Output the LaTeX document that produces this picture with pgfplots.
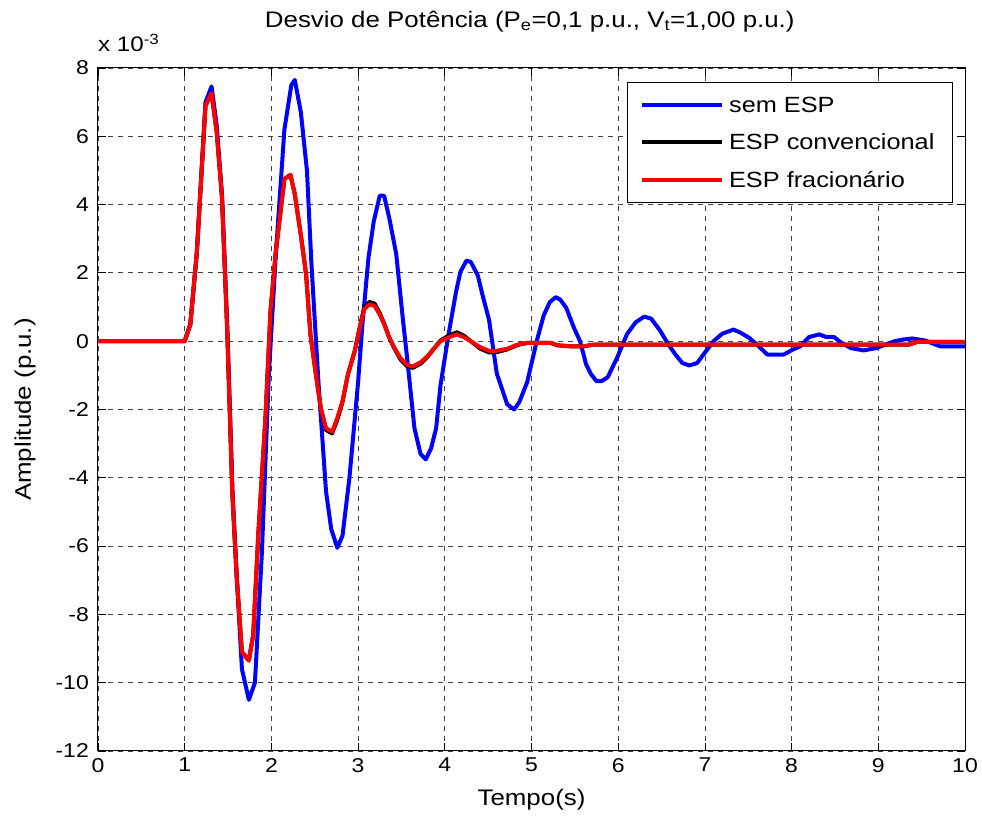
\documentclass[border=0pt]{standalone}
\usepackage{pgfplots}
\pgfplotsset{compat=1.18}
\usepackage{fontspec}
\setmainfont{Liberation Sans}[FakeStretch=1.15]
\usetikzlibrary{calc}
\definecolor{mblue}{RGB}{0,0,255}
\definecolor{mred}{RGB}{255,0,0}
\begin{document}
\begin{tikzpicture}
\begin{axis}[name=ax, scale only axis, width=867pt, height=683pt,
  xmin=0, xmax=10, ymin=-12, ymax=8,
  xtick={0,1,...,10}, ytick={-12,-10,...,8},
  grid=major,
  major grid style={dash pattern=on 5pt off 5pt, black!75, line width=0.8pt},
  tick align=inside, major tick length=8pt,
  axis line style={line width=1pt},
  tick style={black, line width=0.8pt},
  every tick label/.append style={font=\fontsize{20}{24}\selectfont},
  /pgf/number format/assume math mode=true,
  xticklabel style={anchor=north, inner sep=0pt, yshift=-7pt},
  yticklabel style={anchor=east, inner sep=0pt, xshift=-9pt},
  title={Desvio de Potência (P\textsubscript{e}=0,1 p.u., V\textsubscript{t}=1,00 p.u.)},
  title style={at={(axis description cs:0.498,1.059)}, anchor=center, font=\fontsize{22.5}{26}\selectfont},
  xlabel={Tempo(s)},
  xlabel style={at={(axis description cs:0.5,-0.072)}, anchor=center, font=\fontsize{22.5}{26}\selectfont},
  ylabel={Amplitude (p.u.)},
  ylabel style={at={(axis description cs:-0.084,0.5)}, anchor=center, font=\fontsize{22.5}{26}\selectfont},
  legend style={at={(axis description cs:0.986,0.979)}, anchor=north east, draw=black, line width=0.8pt,
    font=\fontsize{22}{26}\selectfont, row sep=16pt, inner xsep=13pt, inner ysep=12pt,
    nodes={inner xsep=5pt}},
  legend cell align=left,
  legend image code/.code={\draw[#1, line width=4pt] (0pt,0pt) -- (80pt,0pt);},
  clip=false,
]
\addplot[mblue, line width=4pt, line join=round] coordinates {
(0,0) (1.0,0) (1.065,0.5) (1.14,2.6) (1.24,7.0) (1.31,7.46) (1.37,6.3) (1.43,4.3) (1.49,0.5) (1.55,-4.3) (1.6,-6.9) (1.66,-9.6) (1.74,-10.5) (1.81,-10.0) (1.89,-6.2) (1.97,-1.0) (2.05,2.5) (2.15,6.2) (2.23,7.5) (2.27,7.65) (2.34,6.7) (2.41,5.0) (2.46,2.35) (2.54,-1.1) (2.63,-4.4) (2.69,-5.5) (2.76,-6.05) (2.82,-5.7) (2.9,-4.0) (3.0,-1.2) (3.05,0.5) (3.12,2.45) (3.18,3.5) (3.25,4.26) (3.3,4.26) (3.36,3.6) (3.44,2.55) (3.51,0.8) (3.57,-0.6) (3.65,-2.55) (3.72,-3.3) (3.78,-3.46) (3.84,-3.15) (3.9,-2.55) (3.95,-1.3) (4.04,0.15) (4.13,1.45) (4.18,2.03) (4.25,2.36) (4.3,2.32) (4.38,1.93) (4.44,1.3) (4.51,0.63) (4.6,-0.95) (4.72,-1.85) (4.8,-2.0) (4.86,-1.78) (4.95,-1.2) (5.06,0) (5.14,0.75) (5.21,1.14) (5.28,1.29) (5.33,1.22) (5.4,0.98) (5.49,0.39) (5.56,0) (5.63,-0.68) (5.69,-0.98) (5.75,-1.17) (5.81,-1.17) (5.88,-1.05) (5.99,-0.47) (6.1,0.2) (6.2,0.55) (6.3,0.72) (6.38,0.66) (6.48,0.32) (6.58,-0.1) (6.66,-0.39) (6.74,-0.64) (6.82,-0.71) (6.91,-0.64) (7.01,-0.3) (7.1,0) (7.2,0.22) (7.33,0.34) (7.41,0.25) (7.51,0.1) (7.6,-0.1) (7.72,-0.39) (7.91,-0.39) (8.01,-0.25) (8.1,-0.15) (8.2,0.12) (8.32,0.2) (8.39,0.13) (8.49,0.12) (8.56,-0.02) (8.68,-0.2) (8.83,-0.27) (8.98,-0.2) (9.1,-0.08) (9.19,0) (9.29,0.05) (9.39,0.08) (9.54,0.02) (9.71,-0.15) (10,-0.15)
};
\addlegendentry{sem ESP}
\addplot[black, line width=4pt, line join=round] coordinates {
(0,0) (1,0) (1.065,0.49) (1.14,2.6) (1.24,6.9) (1.31,7.26) (1.37,6.1) (1.43,4.2) (1.49,0.35) (1.55,-4.5) (1.6,-6.9) (1.66,-9.1) (1.74,-9.35) (1.79,-8.6) (1.85,-5.6) (1.93,-2.3) (1.99,0.9) (2.05,2.6) (2.15,4.75) (2.22,4.87) (2.27,4.3) (2.34,3.1) (2.4,1.96) (2.45,0.2) (2.52,-1.1) (2.57,-1.96) (2.63,-2.6) (2.7,-2.7) (2.76,-2.3) (2.82,-1.78) (2.88,-1.0) (2.96,-0.3) (3.02,0.42) (3.07,0.98) (3.13,1.15) (3.19,1.1) (3.25,0.82) (3.3,0.52) (3.36,0.1) (3.42,-0.22) (3.49,-0.54) (3.57,-0.74) (3.63,-0.78) (3.72,-0.66) (3.8,-0.46) (3.88,-0.2) (3.95,0.02) (4.05,0.17) (4.14,0.26) (4.22,0.16) (4.3,0.0) (4.41,-0.22) (4.51,-0.33) (4.6,-0.32) (4.72,-0.24) (4.84,-0.11) (4.95,-0.05) (5.22,-0.05) (5.3,-0.12) (5.45,-0.15) (5.6,-0.15) (5.72,-0.1) (6,-0.1) (9.35,-0.1) (9.45,-0.02) (10,-0.02)
};
\addlegendentry{ESP convencional}
\addplot[mred, line width=4pt, line join=round] coordinates {
(0,0) (1,0) (1.065,0.49) (1.14,2.6) (1.24,6.9) (1.31,7.26) (1.37,6.1) (1.43,4.2) (1.49,0.35) (1.55,-4.5) (1.6,-6.9) (1.66,-9.1) (1.74,-9.35) (1.79,-8.6) (1.85,-5.6) (1.93,-2.3) (1.99,0.9) (2.05,2.6) (2.15,4.75) (2.22,4.87) (2.27,4.3) (2.34,3.1) (2.4,1.96) (2.45,0.2) (2.52,-1.1) (2.57,-1.96) (2.63,-2.55) (2.7,-2.65) (2.76,-2.25) (2.82,-1.76) (2.88,-1.0) (2.96,-0.3) (3.02,0.4) (3.07,0.93) (3.13,1.08) (3.19,1.03) (3.25,0.78) (3.3,0.5) (3.36,0.1) (3.42,-0.2) (3.49,-0.5) (3.57,-0.7) (3.63,-0.74) (3.72,-0.62) (3.8,-0.44) (3.88,-0.2) (3.95,0) (4.05,0.12) (4.14,0.2) (4.22,0.12) (4.3,0.0) (4.41,-0.18) (4.51,-0.28) (4.6,-0.28) (4.72,-0.22) (4.84,-0.1) (4.95,-0.05) (5.22,-0.05) (5.3,-0.12) (5.45,-0.15) (5.6,-0.15) (5.72,-0.1) (6,-0.1) (9.35,-0.1) (9.45,-0.02) (10,-0.02)
};
\addlegendentry{ESP fracionário}
\node[anchor=base west, inner sep=0pt, font=\fontsize{21}{24}\selectfont] at ($(rel axis cs:0,1)+(0pt,16pt)$) {x 10\textsuperscript{-3}};
\end{axis}
\pgfresetboundingbox
\path[use as bounding box] ($(ax.south west)+(-98pt,-70pt)$) rectangle ($(ax.north east)+(17pt,68pt)$);
\end{tikzpicture}
\end{document}
